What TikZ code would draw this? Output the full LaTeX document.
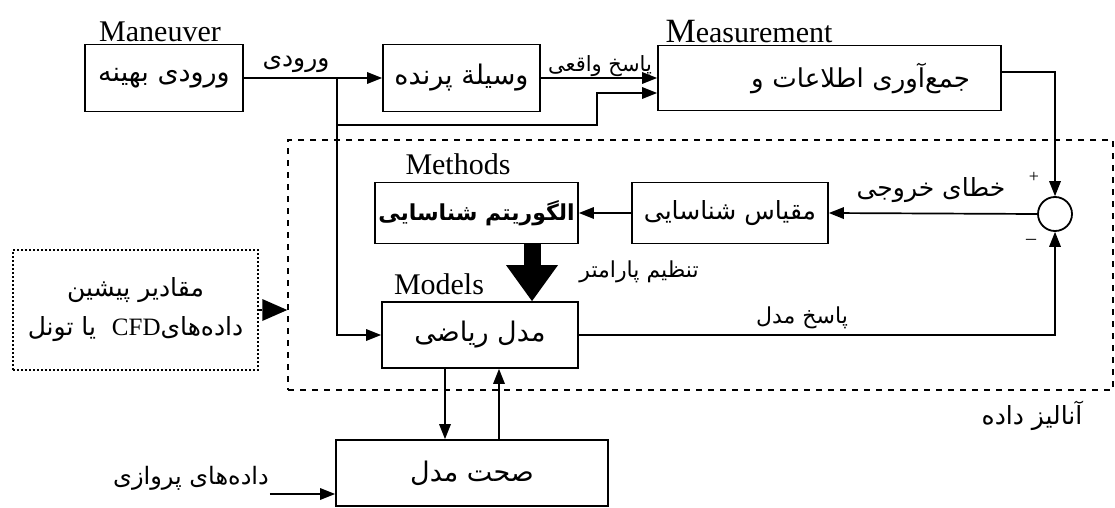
\documentclass[tikz,border=0pt]{standalone}
\usepackage{fontspec}
\setmainfont{Liberation Serif}
\newfontfamily\farsi[Script=Arabic]{DejaVu Sans}
\TeXXeTstate=1
\usetikzlibrary{positioning,arrows.meta}
\newcommand{\rtl}[1]{\beginR #1\endR}

\tikzset{
  blk/.style={draw,line width=1.8pt,inner sep=0pt,
              font=\farsi\fontsize{27}{31}\selectfont},
  lbl/.style={inner sep=1pt,font=\farsi\fontsize{23}{26}\selectfont},
  eng/.style={inner sep=0pt,font=\fontsize{30}{30}\selectfont},
  arr/.style={line width=1.7pt,-{Triangle[length=15pt,width=12pt,line width=0pt]}},
  bigarr/.style={line width=1.7pt,-{Triangle[length=25pt,width=22pt,line width=0pt]}},
  tunearr/.style={line width=17pt,-{Triangle[length=36pt,width=52pt,line width=0pt]}},
  dashframe/.style={draw,line width=1.5pt,dash pattern=on 6pt off 6pt},
  dotbox/.style={draw,line width=1.6pt,dash pattern=on 2pt off 2pt,
                 font=\farsi\fontsize{25}{29}\selectfont}
}

\begin{document}
\begin{tikzpicture}[x=1pt,y=-1pt]
  \useasboundingbox (0,0) rectangle (1115,508);

  % data analysis frame
  \node[dashframe,minimum width=825pt,minimum height=250pt] (frame) at (700.5,265) {};

  % blocks
  \node[blk,minimum width=158pt,minimum height=67pt] (inp) at (164,78) {\rtl{ورودی بهینه}};
  \node[blk,minimum width=157pt,minimum height=67pt] (veh) at (461.5,78) {\rtl{وسیلة پرنده}};
  \node[blk,minimum width=343pt,minimum height=65pt,text width=281pt,inner xsep=31pt,align=right,
        font=\farsi\fontsize{26}{30}\selectfont]
    (meas) at (829.5,78) {\rtl{جمع‌آوری اطلاعات و}};
  \node[draw,circle,line width=1.8pt,minimum size=34pt,inner sep=0pt] (sumc) at (1055,214) {};
  \node[blk,minimum width=196pt,minimum height=61pt,font=\farsi\fontsize{25}{29}\selectfont]
    (cmp) at (730,213) {\rtl{مقیاس شناسایی}};
  \node[blk,minimum width=203pt,minimum height=61pt,font=\farsi\bfseries\fontsize{22}{26}\selectfont]
    (alg) at (476.5,213) {\rtl{الگوریتم شناسایی}};
  \node[blk,minimum width=196pt,minimum height=66pt] (mdl) at (480,335) {\rtl{مدل ریاضی}};
  \node[blk,minimum width=272pt,minimum height=66pt] (valid) at (472,473) {\rtl{صحت مدل}};
  \node[dotbox,minimum width=245pt,minimum height=120pt,align=center] (prior) at (135.5,310)
    {\rtl{مقادیر پیشین}\\[10pt]\rtl{داده‌های\beginL{\rmfamily CFD}\endL\ \ یا تونل}};

  % titles
  \node[eng] (tman) at (160,32) {Maneuver};
  \node[eng] (tmeas) at (749,32) {{\fontsize{34}{34}\selectfont M}easurement};
  \node[eng] (tmeth) at (458,164) {Methods};
  \node[eng] (tmod) at (439,284) {Models};

  % labels
  \node[lbl,font=\farsi\fontsize{25}{28}\selectfont] (lin) at (296,64) {\rtl{ورودی}};
  \node[lbl,font=\farsi\fontsize{21}{24}\selectfont] (lresp) at (600,66) {\rtl{پاسخ واقعی}};
  \node[lbl,font=\farsi\fontsize{25}{28}\selectfont] (lerr) at (931,190) {\rtl{خطای خروجی}};
  \node[eng,font=\fontsize{18}{18}\selectfont] (lplus) at (1034,177) {+};
  \node[eng,font=\fontsize{20}{20}\selectfont] (lminus) at (1031,242) {--};
  \node[lbl,font=\farsi\fontsize{22}{25}\selectfont] (ltune) at (639,272) {\rtl{تنظیم پارامتر}};
  \node[lbl,font=\farsi\fontsize{22}{25}\selectfont] (lmres) at (802,318) {\rtl{پاسخ مدل}};
  \node[lbl,font=\farsi\fontsize{25}{28}\selectfont] (lana) at (1032,416) {\rtl{آنالیز داده}};
  \node[lbl,font=\farsi\fontsize{24}{27}\selectfont] (flt) at (191,478) {\rtl{داده‌های پروازی}};

  % connectors
  \coordinate (br) at (337,78);
  \coordinate (tap) at (337,125);
  \coordinate (rise) at (597,125);
  \coordinate (m2) at ([yshift=-15pt]meas.west);
  \coordinate (tunex) at (532,0);
  \coordinate (dnx) at (445,0);
  \coordinate (upx) at (499,0);

  \draw[arr] (inp.east) -- (veh.west);
  \draw[arr] (veh.east) -- (meas.west);
  \draw[arr] (br) |- (mdl.west);
  \draw[arr] (tap) -- (rise) |- (m2);
  \draw[arr] ([yshift=6pt]meas.east) -| (sumc.north);
  \draw[arr] (sumc.west) -- (cmp.east);
  \draw[arr] (cmp.west) -- (alg.east);
  \draw[tunearr] (alg.south -| tunex) -- (mdl.north -| tunex);
  \draw[arr] (mdl.east) -| (sumc.south);
  \draw[bigarr] (prior.east) -- (prior.east -| frame.west);
  \draw[arr] (mdl.south -| dnx) -- (valid.north -| dnx);
  \draw[arr] (valid.north -| upx) -- (mdl.south -| upx);
  \draw[arr] ([yshift=-16pt]flt.east) -- ([yshift=-16pt]flt.east -| valid.west);
\end{tikzpicture}
\end{document}
